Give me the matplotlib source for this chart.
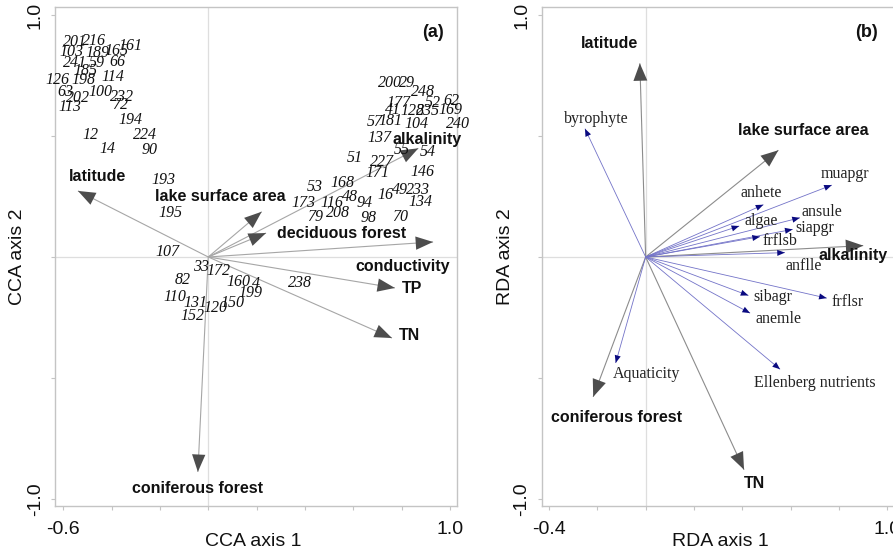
import numpy as np
import matplotlib
matplotlib.use("Agg")
import matplotlib.pyplot as plt
from matplotlib.patches import FancyArrowPatch, ArrowStyle

# ---------------- Panel (a): CCA ----------------
site_ids = ["201", "216", "161", "165", "103", "189", "241", "59", "66", "185",
            "126", "198", "114", "63", "202", "100", "232", "72", "113", "194",
            "12", "224", "14", "90", "193", "195", "107", "33", "172", "82",
            "160", "4", "199", "110", "131", "150", "120", "152", "238", "200",
            "29", "248", "177", "52", "62", "41", "128", "235", "169", "57",
            "181", "104", "240", "137", "55", "54", "51", "227", "171", "146",
            "53", "168", "173", "116", "48", "94", "16", "49", "233", "134",
            "79", "208", "98", "70"]
site_x = [-0.552, -0.473, -0.324, -0.378, -0.564, -0.460, -0.552, -0.460, -0.378, -0.510,
          -0.626, -0.518, -0.394, -0.593, -0.539, -0.448, -0.357, -0.365, -0.572, -0.324,
          -0.489, -0.262, -0.419, -0.241, -0.187, -0.158, -0.167, -0.030, 0.040, -0.105,
          0.123, 0.197, 0.173, -0.138, -0.055, 0.098, 0.028, -0.067, 0.379, 0.752,
          0.822, 0.888, 0.785, 0.930, 1.004, 0.764, 0.843, 0.909, 1.000, 0.690,
          0.752, 0.863, 1.033, 0.710, 0.801, 0.909, 0.607, 0.719, 0.698, 0.888,
          0.441, 0.553, 0.392, 0.512, 0.586, 0.648, 0.731, 0.793, 0.868, 0.876,
          0.441, 0.537, 0.661, 0.793]
site_y = [0.888, 0.893, 0.872, 0.851, 0.847, 0.843, 0.802, 0.802, 0.806, 0.769,
          0.731, 0.731, 0.744, 0.682, 0.657, 0.682, 0.661, 0.628, 0.620, 0.566,
          0.504, 0.504, 0.446, 0.442, 0.318, 0.182, 0.021, -0.041, -0.058, -0.095,
          -0.103, -0.112, -0.149, -0.165, -0.190, -0.190, -0.211, -0.244, -0.107, 0.719,
          0.719, 0.682, 0.636, 0.636, 0.645, 0.607, 0.603, 0.603, 0.607, 0.558,
          0.562, 0.550, 0.550, 0.492, 0.442, 0.434, 0.409, 0.393, 0.347, 0.351,
          0.289, 0.306, 0.223, 0.223, 0.248, 0.223, 0.256, 0.277, 0.277, 0.227,
          0.165, 0.182, 0.161, 0.165]

cca_env = ["latitude", "lake surface area", "deciduous forest", "conductivity",
           "TP", "TN", "coniferous forest", "alkalinity"]
cca_env_x = [-0.539, 0.221, 0.239, 0.930, 0.772, 0.760, -0.043, 0.869]
cca_env_y = [0.273, 0.187, 0.099, 0.062, -0.128, -0.335, -0.888, 0.449]
# label placement (layout)
cca_env_lab_x = [-0.457, 0.048, 0.552, 0.802, 0.844, 0.834, -0.043, 0.904]
cca_env_lab_y = [0.331, 0.252, 0.095, -0.041, -0.132, -0.326, -0.955, 0.486]

# ---------------- Panel (b): RDA ----------------
rda_env = ["latitude", "lake surface area", "alkalinity", "coniferous forest", "TN"]
rda_env_x = [-0.024, 0.549, 0.900, -0.217, 0.407]
rda_env_y = [0.800, 0.441, 0.047, -0.578, -0.879]
rda_env_lab_x = [-0.148, 0.652, 0.856, -0.120, 0.452]
rda_env_lab_y = [0.883, 0.521, 0.005, -0.665, -0.934]

rda_sp = ["byrophyte", "muapgr", "anhete", "ansule", "algae", "siapgr", "frflsb",
          "anflle", "sibagr", "frflsr", "anemle", "Aquaticity", "Ellenberg nutrients"]
rda_sp_x = [-0.251, 0.770, 0.487, 0.638, 0.387, 0.608, 0.473,
            0.576, 0.425, 0.749, 0.432, -0.124, 0.556]
rda_sp_y = [0.530, 0.297, 0.216, 0.162, 0.128, 0.114, 0.084,
            0.018, -0.159, -0.170, -0.232, -0.438, -0.464]
rda_sp_lab_x = [-0.203, 0.825, 0.476, 0.728, 0.476, 0.700, 0.556,
                0.652, 0.525, 0.836, 0.549, 0.004, 0.698]
rda_sp_lab_y = [0.572, 0.344, 0.264, 0.184, 0.147, 0.121, 0.065,
                -0.038, -0.166, -0.188, -0.257, -0.482, -0.522]

# ---------------- Figure ----------------
W, H = 893, 556
fig = plt.figure(figsize=(W / 100, H / 100), dpi=100)

SANS = "Liberation Sans"
SERIF = "Liberation Serif"
spine_col = "#c4c4c4"
zero_col = "#dedede"


def px_axes(l, r, t, b):
    return [l / W, (H - b) / H, (r - l) / W, (b - t) / H]


def style_axes(ax, xticks, xlabs, yticks, ylabs):
    for s in ax.spines.values():
        s.set_color(spine_col)
        s.set_linewidth(1.0)
    ax.set_xticks(xticks)
    ax.set_xticklabels(xlabs, fontfamily=SANS, fontsize=14)
    ax.set_yticks(yticks)
    ax.set_yticklabels(ylabs, fontfamily=SANS, fontsize=14, rotation=90, va="center")
    ax.tick_params(axis="both", direction="out", length=3, width=0.8, color=spine_col,
                   labelcolor="#111111")
    ax.tick_params(axis="x", pad=8)
    ax.tick_params(axis="y", pad=5)
    ax.axhline(0, color=zero_col, lw=0.9, zorder=0)
    ax.axvline(0, color=zero_col, lw=0.9, zorder=0)


def arrow(ax, x, y, line_col, head_col, lw, hl, hw, z=2):
    ax.plot([0, x], [0, y], color=line_col, lw=lw, zorder=z, solid_capstyle="butt")
    p = FancyArrowPatch((0, 0), (x, y),
                        arrowstyle=ArrowStyle("-|>", head_length=hl, head_width=hw),
                        mutation_scale=1, lw=0, color=head_col, shrinkA=0, shrinkB=0,
                        zorder=z + 1)
    ax.add_patch(p)


# Panel (a)
axa = fig.add_axes(px_axes(55, 457, 7, 506))
axa.set_xlim(-0.634, 1.029)
axa.set_ylim(-1.029, 1.033)
style_axes(axa, np.round(np.arange(-0.6, 1.01, 0.2), 1),
           ["-0.6", "", "", "", "", "", "", "", "1.0"],
           [-1.0, -0.5, 0.0, 0.5, 1.0], ["-1.0", "", "", "", "1.0"])

for sx, sy, sid in zip(site_x, site_y, site_ids):
    axa.text(sx, sy, sid, fontfamily=SERIF, style="italic", fontsize=11.5,
             ha="center", va="center", color="#111111", zorder=4, clip_on=False)

for ex, ey in zip(cca_env_x, cca_env_y):
    arrow(axa, ex, ey, "#a6a6a6", "#4d4d4d", 0.8, 12.5, 4.8)
for lx, ly, name in zip(cca_env_lab_x, cca_env_lab_y, cca_env):
    axa.text(lx, ly, name, fontfamily=SANS, fontweight="bold", fontsize=11.5,
             ha="center", va="center", color="#111111", zorder=5)

axa.text(0.93, 0.926, "(a)", fontfamily=SANS, fontweight="bold", fontsize=13,
         ha="center", va="center", color="#111111")

# Panel (b)
axb = fig.add_axes(px_axes(541.7, 894.4, 7, 506))
axb.set_xlim(-0.430, 1.029)
axb.set_ylim(-1.029, 1.033)
style_axes(axb, np.round(np.arange(-0.4, 1.01, 0.2), 1),
           ["-0.4", "", "", "", "", "", "", "1.0"],
           [-1.0, -0.5, 0.0, 0.5, 1.0], ["-1.0", "", "", "", "1.0"])

for ex, ey in zip(rda_env_x, rda_env_y):
    arrow(axb, ex, ey, "#8c8c8c", "#4d4d4d", 0.8, 12.5, 5)
for sx, sy in zip(rda_sp_x, rda_sp_y):
    arrow(axb, sx, sy, "#7373c8", "#0a0a80", 0.6, 5.5, 2.2)
for lx, ly, name in zip(rda_env_lab_x, rda_env_lab_y, rda_env):
    axb.text(lx, ly, name, fontfamily=SANS, fontweight="bold", fontsize=11.5,
             ha="center", va="center", color="#111111", zorder=5)
for lx, ly, name in zip(rda_sp_lab_x, rda_sp_lab_y, rda_sp):
    axb.text(lx, ly, name, fontfamily=SERIF, fontsize=11.5,
             ha="center", va="center", color="#222222", zorder=5)

axb.text(0.914, 0.926, "(b)", fontfamily=SANS, fontweight="bold", fontsize=13,
         ha="center", va="center", color="#111111")

# Axis titles
fig.text(253 / W, 1 - 541 / H, "CCA axis 1", fontfamily=SANS, fontsize=14,
         ha="center", va="center", color="#111111")
fig.text(18 / W, 1 - 257 / H, "CCA axis 2", fontfamily=SANS, fontsize=14,
         ha="center", va="center", rotation=90, color="#111111")
fig.text(720 / W, 1 - 541 / H, "RDA axis 1", fontfamily=SANS, fontsize=14,
         ha="center", va="center", color="#111111")
fig.text(505 / W, 1 - 257 / H, "RDA axis 2", fontfamily=SANS, fontsize=14,
         ha="center", va="center", rotation=90, color="#111111")

fig.savefig("out.png", dpi=100, facecolor="white")
